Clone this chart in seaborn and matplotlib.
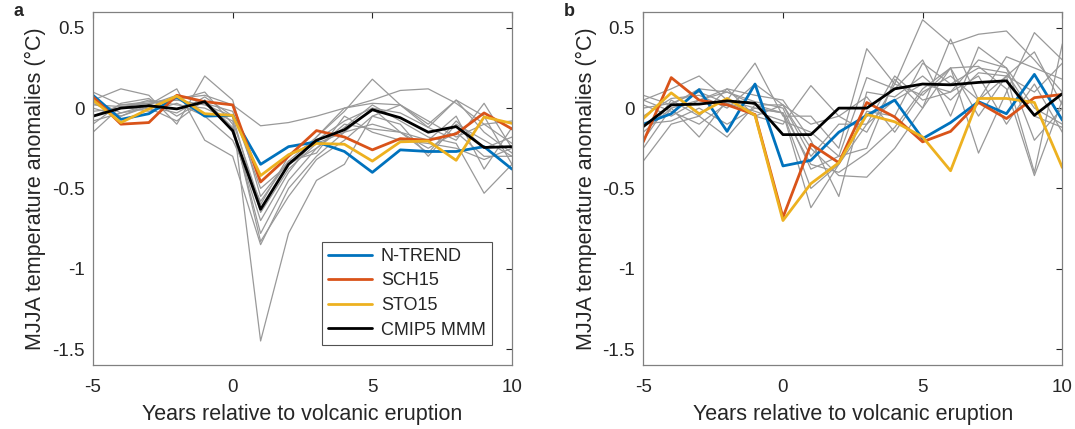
import numpy as np
import pandas as pd
import seaborn as sns
import matplotlib.pyplot as plt

years = list(range(-5, 11))

# panel a: reconstructions and multi-model mean
ntrend_a = [0.08, -0.07, -0.035, 0.07, -0.05, -0.045, -0.35, -0.24, -0.21, -0.27, -0.40, -0.26, -0.27, -0.27, -0.24, -0.38]
sch15_a = [0.07, -0.10, -0.09, 0.08, 0.04, 0.02, -0.46, -0.30, -0.14, -0.18, -0.26, -0.19, -0.20, -0.16, -0.03, -0.13]
sto15_a = [0.05, -0.09, -0.005, 0.075, -0.035, -0.045, -0.42, -0.29, -0.22, -0.225, -0.33, -0.21, -0.205, -0.325, -0.055, -0.095]
mmm_a = [-0.05, 0.0, 0.015, -0.005, 0.04, -0.14, -0.63, -0.35, -0.20, -0.135, -0.01, -0.06, -0.15, -0.115, -0.245, -0.24]

# panel a: individual CMIP5 models
models_a = [
    [0.10, 0.02, 0.03, 0.06, 0.08, 0.02, -0.11, -0.09, -0.05, 0.00, 0.05, 0.11, 0.12, 0.03, -0.10, -0.08],
    [0.05, 0.12, 0.08, -0.10, 0.20, 0.05, -0.55, -0.33, -0.18, -0.02, 0.18, 0.02, -0.12, 0.05, -0.05, -0.35],
    [-0.15, 0.01, 0.03, 0.05, 0.02, -0.05, -1.45, -0.78, -0.45, -0.35, -0.05, -0.10, -0.30, -0.10, -0.20, -0.30],
    [0.00, -0.05, 0.02, 0.12, -0.20, -0.30, -0.85, -0.50, -0.30, -0.15, 0.00, -0.03, -0.12, -0.20, 0.03, -0.25],
    [-0.05, 0.02, 0.04, 0.05, 0.10, -0.10, -0.83, -0.55, -0.32, -0.20, -0.05, 0.02, -0.10, 0.05, -0.15, -0.28],
    [-0.08, -0.03, 0.00, -0.08, 0.05, -0.12, -0.78, -0.45, -0.25, -0.12, 0.02, -0.08, -0.18, -0.22, -0.53, -0.35],
    [0.03, -0.05, 0.01, -0.03, 0.07, -0.05, -0.65, -0.38, -0.22, -0.15, -0.10, -0.15, -0.20, -0.05, -0.38, -0.12],
    [-0.02, 0.00, 0.05, 0.02, 0.00, -0.08, -0.60, -0.30, -0.20, -0.08, 0.00, -0.15, -0.25, -0.15, -0.30, -0.30],
    [0.05, -0.03, 0.02, 0.08, 0.03, -0.02, -0.50, -0.35, -0.25, -0.10, -0.13, -0.15, -0.28, -0.08, -0.25, -0.18],
    [-0.10, 0.03, 0.06, -0.05, 0.05, -0.15, -0.70, -0.40, -0.18, 0.00, 0.03, 0.02, -0.08, -0.18, -0.10, -0.22],
    [0.02, 0.01, -0.02, 0.03, -0.05, -0.20, -0.58, -0.33, -0.28, -0.05, -0.15, -0.20, -0.22, -0.25, -0.32, -0.25],
]

# panel b
ntrend_b = [-0.10, -0.035, 0.115, -0.145, 0.15, -0.36, -0.325, -0.15, -0.045, 0.05, -0.19, -0.09, 0.04, -0.035, 0.21, -0.075]
sch15_b = [-0.21, 0.19, 0.05, 0.02, -0.04, -0.68, -0.225, -0.34, 0.035, -0.055, -0.21, -0.145, 0.035, -0.065, 0.065, 0.085]
sto15_b = [-0.065, 0.095, -0.035, 0.06, -0.045, -0.70, -0.47, -0.34, -0.04, -0.085, -0.18, -0.39, 0.06, 0.06, 0.035, -0.37]
mmm_b = [-0.115, 0.02, 0.025, 0.045, 0.03, -0.165, -0.165, 0.0, 0.0, 0.12, 0.15, 0.145, 0.16, 0.17, -0.045, 0.09]

models_b = [
    [0.05, 0.12, 0.20, 0.05, 0.28, -0.05, -0.05, -0.25, 0.37, 0.15, 0.55, 0.40, 0.46, 0.48, 0.30, 0.10],
    [-0.33, -0.10, -0.05, -0.18, 0.02, 0.02, -0.25, -0.42, -0.43, -0.25, 0.00, 0.43, 0.05, 0.20, -0.40, 0.40],
    [0.08, 0.02, 0.12, 0.10, 0.04, 0.00, -0.38, -0.30, 0.19, 0.12, 0.30, -0.05, 0.38, 0.25, 0.00, -0.10],
    [-0.20, 0.05, -0.05, 0.12, -0.05, -0.10, 0.14, -0.05, -0.15, 0.15, 0.08, 0.25, -0.28, 0.10, 0.47, 0.30],
    [-0.05, 0.06, 0.08, 0.00, 0.15, 0.02, -0.10, -0.05, 0.07, -0.15, 0.10, 0.20, 0.05, 0.32, 0.25, 0.18],
    [-0.15, 0.00, -0.18, 0.05, 0.00, -0.03, -0.35, -0.40, -0.28, -0.12, 0.12, 0.25, 0.26, 0.12, -0.42, 0.05],
    [0.02, -0.05, 0.05, 0.12, 0.08, 0.05, -0.20, -0.55, 0.10, 0.07, 0.20, 0.05, 0.22, 0.20, 0.35, 0.02],
    [-0.10, -0.08, 0.00, -0.10, 0.00, -0.03, -0.62, -0.35, -0.10, 0.05, 0.15, 0.10, 0.20, -0.10, 0.15, -0.15],
    [0.00, 0.03, 0.10, 0.03, -0.05, 0.02, -0.30, -0.10, -0.10, 0.20, 0.05, 0.10, 0.30, 0.25, -0.20, 0.00],
    [-0.25, 0.00, 0.05, 0.10, 0.02, -0.03, -0.50, -0.35, -0.02, -0.05, 0.28, 0.15, 0.25, 0.22, -0.05, -0.12],
    [0.05, -0.02, -0.10, 0.03, -0.02, -0.08, -0.15, -0.30, -0.25, 0.18, 0.00, 0.25, -0.05, 0.20, 0.10, 0.28],
]

names = ['N-TREND', 'SCH15', 'STO15', 'CMIP5 MMM']
colors = ['#0072BD', '#D95319', '#EDB120', 'black']

sns.set_style('white')
plt.rcParams['font.family'] = ['Liberation Sans', 'DejaVu Sans']

fig = plt.figure(figsize=(10.75, 4.29), dpi=100)
ax_a = fig.add_axes([0.0865, 0.149, 0.3898, 0.8236])
ax_b = fig.add_axes([0.5984, 0.149, 0.3898, 0.8236])

panels = [
    (ax_a, models_a, [ntrend_a, sch15_a, sto15_a, mmm_a], 'a'),
    (ax_b, models_b, [ntrend_b, sch15_b, sto15_b, mmm_b], 'b'),
]

for ax, models, series, tag in panels:
    for m in models:
        sns.lineplot(x=years, y=m, ax=ax, color='#999999', lw=0.9, legend=False)
    for vals, name, c in zip(series, names, colors):
        sns.lineplot(x=years, y=vals, ax=ax, color=c, lw=2.0, label=name)
    ax.set_xlim(-5, 10)
    ax.set_ylim(-1.6, 0.6)
    ax.set_xticks([-5, 0, 5, 10])
    ax.set_yticks([-1.5, -1, -0.5, 0, 0.5])
    ax.set_xticklabels(['-5', '0', '5', '10'])
    ax.set_yticklabels(['-1.5', '-1', '-0.5', '0', '0.5'])
    ax.tick_params(direction='in', length=4, width=0.8, colors='#262626',
                   top=True, right=True, labelsize=13.5)
    ax.tick_params(axis='x', pad=10)
    ax.tick_params(axis='y', pad=6)
    for s in ax.spines.values():
        s.set_color('#808080')
        s.set_linewidth(0.9)
    ax.set_xlabel('Years relative to volcanic eruption', fontsize=15.5, color='#262626', labelpad=6)
    ax.set_ylabel('MJJA temperature anomalies (°C)', fontsize=15.5, color='#262626', labelpad=4)
    ax.text(-0.19, 1.0, tag, transform=ax.transAxes, fontsize=13, fontweight='bold',
            ha='left', va='center')

ax_b.get_legend().remove()
leg = ax_a.legend(loc='lower right', bbox_to_anchor=(0.952, 0.057), borderaxespad=0,
                  fontsize=13, frameon=True, fancybox=False, handlelength=2.4,
                  borderpad=0.35, labelspacing=0.42, handletextpad=0.5)
leg.get_frame().set_edgecolor('#262626')
leg.get_frame().set_linewidth(0.8)

fig.savefig('out.png', dpi=100)
